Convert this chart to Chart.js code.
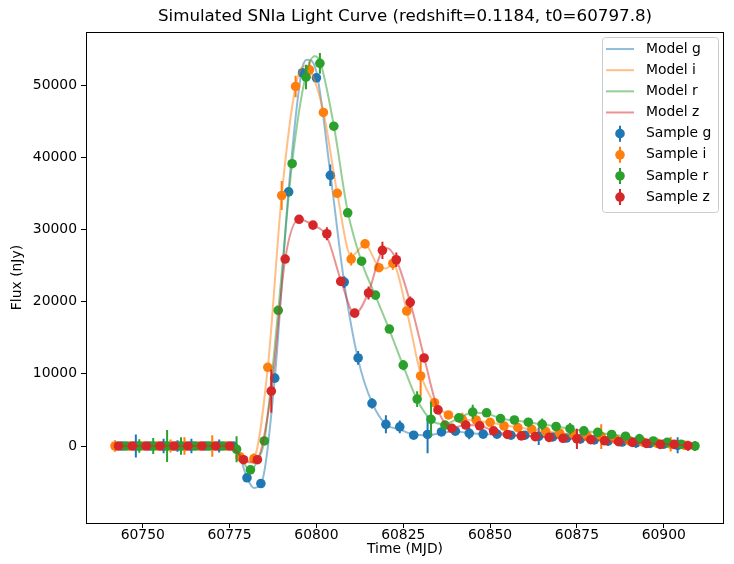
<!DOCTYPE html>
<html lang="en">
<head>
<meta charset="UTF-8">
<title>Simulated SNIa Light Curve</title>
<script src="https://cdn.jsdelivr.net/npm/chart.js"></script>
<style>body{margin:0;background:#fff}</style>
</head>
<body>
<canvas id="lcChart" width="734" height="564"></canvas>
<script>
// bands and colours (matplotlib tab10)
const bands = ['g', 'i', 'r', 'z'];
const bandColors = ['#1f77b4', '#ff7f0e', '#2ca02c', '#d62728'];

const xTicks = [60750, 60775, 60800, 60825, 60850, 60875, 60900];
const yTicks = [0, 10000, 20000, 30000, 40000, 50000];

// sampled photometry (MJD, flux nJy, 1-sigma error)
const timeG = [60744,60748,60752,60756,60760,60764,60768,60772,60776,60780,60784,60788,60792,60796,60800,60804,60808,60812,60816,60820,60824,60828,60832,60836,60840,60844,60848,60852,60856,60860,60864,60868,60872,60876,60880,60884,60888,60892,60896,60900,60904];
const fluxG = [0,0,0,0,0,0,0,0,0,-4400,-5200,9400,35200,51700,51000,37500,22700,12200,5900,3000,2650,1500,1600,1950,2050,1750,1650,1650,1500,1500,1350,1250,1100,1000,850,700,550,450,350,250,100];
const errG  = [400,1600,400,1000,800,1000,400,900,400,500,500,500,500,600,600,1500,800,950,700,1250,900,500,2600,500,500,800,500,500,500,500,1200,500,500,700,500,700,500,700,500,500,1100];

const timeI = [60742,60746,60750,60754,60758,60762,60766,60770,60774,60778,60782,60786,60790,60794,60798,60802,60806,60810,60814,60818,60822,60826,60830,60834,60838,60842,60846,60850,60854,60858,60862,60866,60870,60874,60878,60882,60886,60890,60894,60898,60902,60906];
const fluxI = [0,0,0,0,0,0,0,0,0,-1500,-1750,10900,34700,49800,52100,46200,35000,25900,28000,24700,25300,18700,9700,6000,4300,3700,3600,3280,2770,2540,2310,2040,1800,1600,1350,1300,950,750,550,400,250,100];
const errI  = [800,400,400,400,900,1200,400,1500,400,500,700,500,2000,1500,1200,500,500,900,500,500,900,500,2800,500,500,900,500,500,500,500,500,500,500,500,500,1700,500,500,500,500,1000,500];

const timeR = [60745,60749,60753,60757,60761,60765,60769,60773,60777,60781,60785,60789,60793,60797,60801,60805,60809,60813,60817,60821,60825,60829,60833,60837,60841,60845,60849,60853,60857,60861,60865,60869,60873,60877,60881,60885,60889,60893,60897,60901,60905,60909];
const fluxR = [0,0,0,0,0,0,0,0,-450,-3300,700,18800,39100,51100,53000,44300,32300,25600,20900,16200,11200,6500,3700,2900,3900,4700,4600,3800,3600,3300,3000,2700,2400,2100,1900,1600,1350,1000,700,500,250,0];
const errR  = [400,950,1100,2200,1200,400,400,400,1800,500,500,500,500,1700,1450,500,500,500,500,500,700,1100,2400,500,500,1000,500,500,500,500,800,500,800,500,500,500,500,700,500,500,500,700];

const timeZ = [60743,60747,60751,60755,60759,60763,60767,60771,60775,60779,60783,60787,60791,60795,60799,60803,60807,60811,60815,60819,60823,60827,60831,60835,60839,60843,60847,60851,60855,60859,60863,60867,60871,60875,60879,60883,60887,60891,60895,60899,60903,60907];
const fluxZ = [0,0,0,0,0,0,0,0,0,-1900,-1900,7600,25900,31400,30600,29400,22800,18400,21200,27100,25800,19900,12200,5000,2450,2900,2800,2100,1600,1400,1300,1200,1070,1000,870,730,600,500,370,230,230,40];
const errZ  = [400,400,400,400,400,400,400,400,400,500,500,3000,500,500,500,900,500,500,900,1200,1000,800,500,500,500,500,500,500,500,500,500,500,500,1400,500,500,500,500,500,500,500,700];

// model curves
const modelTimeG = [60744,60776,60778,60780,60782,60784,60788,60792,60796,60797.5,60800,60804,60808,60812,60816,60820,60824,60828,60832,60836,60840,60844,60848,60856,60864,60872,60880,60888,60896,60904];
const modelFluxG = [0,0,-1500,-4400,-5800,-5300,9400,35500,52500,53500,51800,37800,22600,12000,6000,3000,2300,1600,1500,1800,2000,1800,1650,1500,1350,1100,850,550,350,100];

const modelTimeI = [60742,60774,60776,60778,60780,60782,60786,60790,60794,60796.5,60798,60802,60806,60810,60814,60818,60820,60822,60826,60830,60834,60838,60842,60846,60850,60858,60866,60874,60882,60890,60898,60906];
const modelFluxI = [0,0,-300,-1500,-2100,-1700,10900,34700,49800,52600,52200,46300,35000,26300,27900,24800,24600,25200,18700,10000,5900,4300,3700,3500,3250,2550,2050,1600,1200,750,400,100];

const modelTimeR = [60745,60775,60777,60779,60781,60783,60785,60789,60793,60797,60799.5,60801,60805,60809,60813,60817,60821,60825,60829,60833,60837,60841,60845,60849,60853,60861,60869,60877,60885,60893,60901,60909];
const modelFluxR = [0,0,-500,-2200,-3500,-2000,700,18800,39200,51500,54000,53300,44400,32500,25500,20800,16100,11100,6400,3600,3000,3900,4600,4500,3800,3300,2700,2100,1600,1000,500,0];

const modelTimeZ = [60743,60775,60777,60779,60781,60783,60787,60791,60795,60799,60803,60807,60811,60815,60819,60820.5,60823,60827,60831,60835,60839,60843,60847,60851,60855,60863,60871,60879,60887,60895,60903,60907];
const modelFluxZ = [0,0,-800,-1900,-2300,-1900,7600,25900,31400,30600,29000,23000,18300,21300,27100,27400,25800,19900,12300,5000,2500,2900,2800,2100,1600,1300,1070,870,600,370,200,40];

const sampleTimes = [timeG, timeI, timeR, timeZ];
const sampleFlux = [fluxG, fluxI, fluxR, fluxZ];
const sampleErr = [errG, errI, errR, errZ];
const modelTimes = [modelTimeG, modelTimeI, modelTimeR, modelTimeZ];
const modelFlux = [modelFluxG, modelFluxI, modelFluxR, modelFluxZ];

function withAlpha(hex, a) {
  const n = parseInt(hex.slice(1), 16);
  return 'rgba(' + (n >> 16) + ',' + ((n >> 8) & 255) + ',' + (n & 255) + ',' + a + ')';
}

const datasets = [];
bands.forEach((b, k) => {
  datasets.push({
    label: 'Model ' + b,
    data: modelTimes[k].map((t, i) => ({x: t, y: modelFlux[k][i]})),
    showLine: true,
    borderColor: withAlpha(bandColors[k], 0.5),
    borderWidth: 2,
    pointRadius: 0,
    cubicInterpolationMode: 'monotone',
    order: 7 - 2 * k
  });
  datasets.push({
    label: 'Sample ' + b,
    data: sampleTimes[k].map((t, i) => ({x: t, y: sampleFlux[k][i]})),
    errors: sampleErr[k],
    showLine: false,
    pointRadius: 4.8,
    pointBorderWidth: 0,
    backgroundColor: bandColors[k],
    borderColor: bandColors[k],
    order: 6 - 2 * k
  });
});

// vertical error bars, drawn under each sample set
const errorBars = {
  id: 'errorBars',
  beforeDatasetDraw(chart, args) {
    const ds = chart.data.datasets[args.index];
    if (!ds.errors) return;
    const ctx = chart.ctx, xs = chart.scales.x, ys = chart.scales.y, a = chart.chartArea;
    ctx.save();
    ctx.beginPath();
    ctx.rect(a.left, a.top, a.right - a.left, a.bottom - a.top);
    ctx.clip();
    ctx.strokeStyle = ds.borderColor;
    ctx.lineWidth = 2;
    ctx.beginPath();
    ds.data.forEach((p, i) => {
      const px = xs.getPixelForValue(p.x);
      ctx.moveTo(px, ys.getPixelForValue(p.y - ds.errors[i]));
      ctx.lineTo(px, ys.getPixelForValue(p.y + ds.errors[i]));
    });
    ctx.stroke();
    ctx.restore();
  }
};

// axes frame and matplotlib-like legend
const frameAndLegend = {
  id: 'frameAndLegend',
  afterDraw(chart) {
    const ctx = chart.ctx, a = chart.chartArea;
    ctx.save();
    ctx.strokeStyle = '#000';
    ctx.lineWidth = 1;
    ctx.strokeRect(Math.round(a.left) + 0.5, Math.round(a.top) + 0.5,
      Math.round(a.right - a.left) - 1, Math.round(a.bottom - a.top));

    const bx = a.right - 122, by = a.top + 5, bw = 116, bh = 175;
    ctx.beginPath();
    if (ctx.roundRect) ctx.roundRect(bx + 0.5, by + 0.5, bw, bh, 3); else ctx.rect(bx + 0.5, by + 0.5, bw, bh);
    ctx.fillStyle = 'rgba(255,255,255,0.8)';
    ctx.fill();
    ctx.strokeStyle = '#cccccc';
    ctx.stroke();

    ctx.font = "13.9px 'DejaVu Sans', sans-serif";
    ctx.textBaseline = 'middle';
    ctx.fillStyle = '#000';
    const rowH = 21.15;
    bands.forEach((b, k) => {
      const y = by + 12 + k * rowH;
      ctx.strokeStyle = withAlpha(bandColors[k], 0.5);
      ctx.lineWidth = 2;
      ctx.beginPath();
      ctx.moveTo(bx + 4, y); ctx.lineTo(bx + 32, y);
      ctx.stroke();
      ctx.fillStyle = '#000';
      ctx.fillText('Model ' + b, bx + 44, y);
    });
    bands.forEach((b, k) => {
      const y = by + 12 + (k + 4) * rowH;
      const cx = bx + 18;
      ctx.strokeStyle = bandColors[k];
      ctx.lineWidth = 2;
      ctx.beginPath();
      ctx.moveTo(cx, y - 8); ctx.lineTo(cx, y + 8);
      ctx.stroke();
      ctx.fillStyle = bandColors[k];
      ctx.beginPath();
      ctx.arc(cx, y, 4.8, 0, Math.PI * 2);
      ctx.fill();
      ctx.fillStyle = '#000';
      ctx.fillText('Sample ' + b, bx + 44, y);
    });
    ctx.restore();
  }
};

Chart.defaults.font.family = "'DejaVu Sans', sans-serif";
Chart.defaults.color = '#000';

const tickFont = {size: 13.9};

new Chart(document.getElementById('lcChart'), {
  type: 'scatter',
  data: {datasets: datasets},
  options: {
    responsive: false,
    animation: false,
    devicePixelRatio: 1,
    layout: {padding: {left: 0, right: 10, top: 0, bottom: 0}},
    plugins: {
      legend: {display: false},
      tooltip: {enabled: false},
      title: {
        display: true,
        text: 'Simulated SNIa Light Curve (redshift=0.1184, t0=60797.8)',
        fullSize: false,
        font: {size: 16.7, weight: 'normal'},
        padding: {top: 7, bottom: 5}
      }
    },
    scales: {
      x: {
        type: 'linear',
        min: 60733.65,
        max: 60917.35,
        afterBuildTicks: s => { s.ticks = xTicks.map(v => ({value: v})); },
        afterFit: s => { s.height = 41; s.paddingLeft = 0; s.paddingRight = 0; },
        ticks: {font: tickFont, padding: -1, maxRotation: 0, callback: v => String(v)},
        grid: {drawOnChartArea: false, drawTicks: true, tickLength: 5, color: '#000'},
        border: {display: false},
        title: {display: true, text: 'Time (MJD)', font: tickFont, padding: {top: 0, bottom: 6}}
      },
      y: {
        type: 'linear',
        min: -10665,
        max: 57340,
        afterBuildTicks: s => { s.ticks = yTicks.map(v => ({value: v})); },
        afterFit: s => { s.width = 86; s.paddingTop = 0; s.paddingBottom = 0; },
        ticks: {font: tickFont, padding: 4, callback: v => String(v)},
        grid: {drawOnChartArea: false, drawTicks: true, tickLength: 5, color: '#000'},
        border: {display: false},
        title: {display: true, text: 'Flux (nJy)', font: tickFont, padding: {top: 9, bottom: 0}}
      }
    }
  },
  plugins: [errorBars, frameAndLegend]
});
</script>
</body>
</html>
